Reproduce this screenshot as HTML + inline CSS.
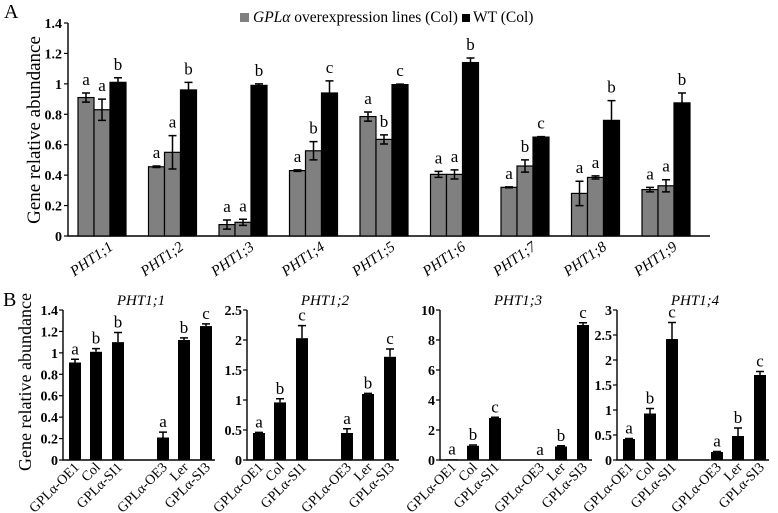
<!DOCTYPE html>
<html><head><meta charset="utf-8">
<style>
body{margin:0;background:#fff;}
svg{display:block;font-family:"Liberation Serif",serif;}
</style></head>
<body>
<svg id="fig" width="778" height="513" viewBox="0 0 778 513" xmlns="http://www.w3.org/2000/svg">
<text x="4" y="18" font-size="20">A</text>
<text x="3" y="306" font-size="20">B</text>
<g>
<rect x="240" y="13" width="9" height="9" fill="#808080"/>
<text x="253" y="22" font-size="15.5"><tspan font-style="italic">GPLα</tspan> overexpression lines (Col)</text>
<rect x="462" y="14" width="8" height="8" fill="#000"/>
<text x="473" y="22" font-size="15.5">WT (Col)</text>
</g>
<text transform="translate(40,130) rotate(-90)" text-anchor="middle" font-size="19">Gene relative abundance</text>
<text transform="translate(31,382) rotate(-90)" text-anchor="middle" font-size="18">Gene relative abundance</text>
</svg>
<script>
const NS="http://www.w3.org/2000/svg";
const svg=document.getElementById('fig');
// Panel A data
const genesA=["PHT1;1","PHT1;2","PHT1;3","PHT1;4","PHT1;5","PHT1;6","PHT1;7","PHT1;8","PHT1;9"];
const oe1A=[0.91,0.455,0.075,0.43,0.785,0.405,0.32,0.28,0.305];
const oe2A=[0.83,0.55,0.09,0.56,0.635,0.405,0.46,0.385,0.33];
const wtA=[1.01,0.96,0.99,0.94,0.995,1.14,0.65,0.76,0.875];
const oe1ErrA=[0.03,0.005,0.03,0.005,0.03,0.02,0.003,0.08,0.015];
const oe2ErrA=[0.07,0.11,0.02,0.06,0.03,0.03,0.04,0.01,0.04];
const wtErrA=[0.03,0.05,0.01,0.08,0.003,0.03,0.003,0.13,0.065];
const oe1LetA=["a","a","a","a","a","a","a","a","a"];
const oe2LetA=["a","a","a","b","b","a","b","a","a"];
const wtLetA=["b","b","b","c","c","b","c","b","b"];
const ticksA=["0","0.2","0.4","0.6","0.8","1","1.2","1.4"];
// Panel B data
const strainsB=["GPLα-OE1","Col","GPLα-SI1","GPLα-OE3","Ler","GPLα-SI3"];
const titlesB=["PHT1;1","PHT1;2","PHT1;3","PHT1;4"];
const valsB1=[0.91,1.01,1.10,0.21,1.12,1.25];
const valsB2=[0.45,0.96,2.03,0.45,1.10,1.72];
const valsB3=[0.05,0.95,2.8,0.0,0.9,9.0];
const valsB4=[0.42,0.93,2.42,0.16,0.48,1.70];
const errB1=[0.03,0.03,0.09,0.05,0.02,0.02];
const errB2=[0.01,0.06,0.21,0.07,0.01,0.13];
const errB3=[0.0,0.05,0.05,0.0,0.05,0.15];
const errB4=[0.01,0.1,0.33,0.01,0.16,0.07];
const letB1=["a","b","b","a","b","c"];
const letB2=["a","b","c","a","b","c"];
const letB3=["a","b","c","a","b","c"];
const letB4=["a","b","c","a","b","c"];
const ticksB1=["0","0.2","0.4","0.6","0.8","1","1.2","1.4"];
const ticksB2=["0","0.5","1","1.5","2","2.5"];
const ticksB3=["0","2","4","6","8","10"];
const ticksB4=["0","0.5","1","1.5","2","2.5","3"];

function mk(tag,attrs,parent){const e=document.createElementNS(NS,tag);for(const k in attrs)e.setAttribute(k,attrs[k]);(parent||svg).appendChild(e);return e;}
function errbar(g,x,yTop,yBot,cap){
  const l=mk('path',{d:`M${x} ${yTop}V${yBot}M${x-cap} ${yTop}H${x+cap}M${x-cap} ${yBot}H${x+cap}`,stroke:'#000','stroke-width':1.5,fill:'none'},g);
  
  
}
// ---- Panel A ----
(function(){
  const x0=68,xEnd=710,y0=236,yTop=23,max=1.4;
  const ys=v=>y0-(v/max)*(y0-yTop);
  const g=mk('g',{});
  
  
  const ax=mk('path',{d:`M${x0} ${yTop}V${y0}H${xEnd}`,stroke:'#000','stroke-width':1.4,fill:'none'},g);
  
  
  ticksA.forEach(t=>{
    const y=ys(parseFloat(t));
    mk('path',{d:`M${x0-4} ${y}H${x0}`,stroke:'#000','stroke-width':1.2},g);
    const tx=mk('text',{x:x0-6,y:y+5,'text-anchor':'end','font-size':14,'font-weight':'bold'},g);
    
    
    tx.textContent=t;
  });
  const bw=16,step=70.5,start=78;
  const series=[[oe1A,oe1ErrA,oe1LetA,'#808080'],[oe2A,oe2ErrA,oe2LetA,'#808080'],[wtA,wtErrA,wtLetA,'#000']];
  genesA.forEach((gn,i)=>{
    series.forEach((s,j)=>{
      const x=start+i*step+j*bw,v=s[0][i],e=s[1][i];
      const r=mk('rect',{x:x,y:ys(v),width:bw,height:y0-ys(v),fill:s[3],stroke:'#000','stroke-width':1.2},g);
      
      
      errbar(g,x+bw/2,ys(v+e),ys(v-e),4);
      const lt=mk('text',{x:x+bw/2,y:ys(v+e)-8,'text-anchor':'middle','font-size':17},g);
      
      
      lt.textContent=s[2][i];
    });
    const cx=start+i*step+bw*1.5;
    const cl=mk('text',{transform:`translate(${cx+12},${y0+13}) rotate(-35)`,'text-anchor':'end','font-size':15,'font-style':'italic'},g);
    
    
    cl.textContent=gn;
  });
})();
// ---- Panel B ----
const panelsB=[
  {ax:63,vals:valsB1,err:errB1,let:letB1,ticks:ticksB1,title:titlesB[0]},
  {ax:247,vals:valsB2,err:errB2,let:letB2,ticks:ticksB2,title:titlesB[1]},
  {ax:440,vals:valsB3,err:errB3,let:letB3,ticks:ticksB3,title:titlesB[2]},
  {ax:617,vals:valsB4,err:errB4,let:letB4,ticks:ticksB4,title:titlesB[3]}
];
panelsB.forEach((p,pi)=>{
  const y0=460,yTop=310,max=parseFloat(p.ticks[p.ticks.length-1]);
  const ys=v=>y0-(v/max)*(y0-yTop);
  const g=mk('g',{});
  
  
  const x0=p.ax,xEnd=p.ax+152;
  const a=mk('path',{d:`M${x0} ${yTop}V${y0}H${xEnd}`,stroke:'#000','stroke-width':1.4,fill:'none'},g);
  
  
  p.ticks.forEach(t=>{
    const y=ys(parseFloat(t));
    mk('path',{d:`M${x0-4} ${y}H${x0}`,stroke:'#000','stroke-width':1.2},g);
    const tx=mk('text',{x:x0-5,y:y+5,'text-anchor':'end','font-size':14,'font-weight':'bold'},g);
    
    
    tx.textContent=t;
  });
  const tt=mk('text',{x:x0+78,y:y0-155,'text-anchor':'middle','font-size':15,'font-style':'italic'},g);
  
  
  tt.textContent=p.title;
  const offs=[12,33,55,100,121,143],bw=12;
  strainsB.forEach((s,i)=>{
    const cx=x0+offs[i],v=p.vals[i],e=p.err[i];
    const r=mk('rect',{x:cx-bw/2,y:ys(v),width:bw,height:y0-ys(v),fill:'#000'},g);
    
    
    if(e>0){mk('path',{d:`M${cx} ${ys(v)}V${ys(v+e)}M${cx-4} ${ys(v+e)}H${cx+4}`,stroke:'#000','stroke-width':1.5,fill:'none'},g);}
    const lt=mk('text',{x:cx,y:ys(v+e)-5,'text-anchor':'middle','font-size':17},g);
    
    
    lt.textContent=p.let[i];
    const cl=mk('text',{transform:`translate(${cx+5},${y0+8}) rotate(-45)`,'text-anchor':'end','font-size':14},g);
    
    
    cl.textContent=s;
  });
});
</script>
</body></html>
